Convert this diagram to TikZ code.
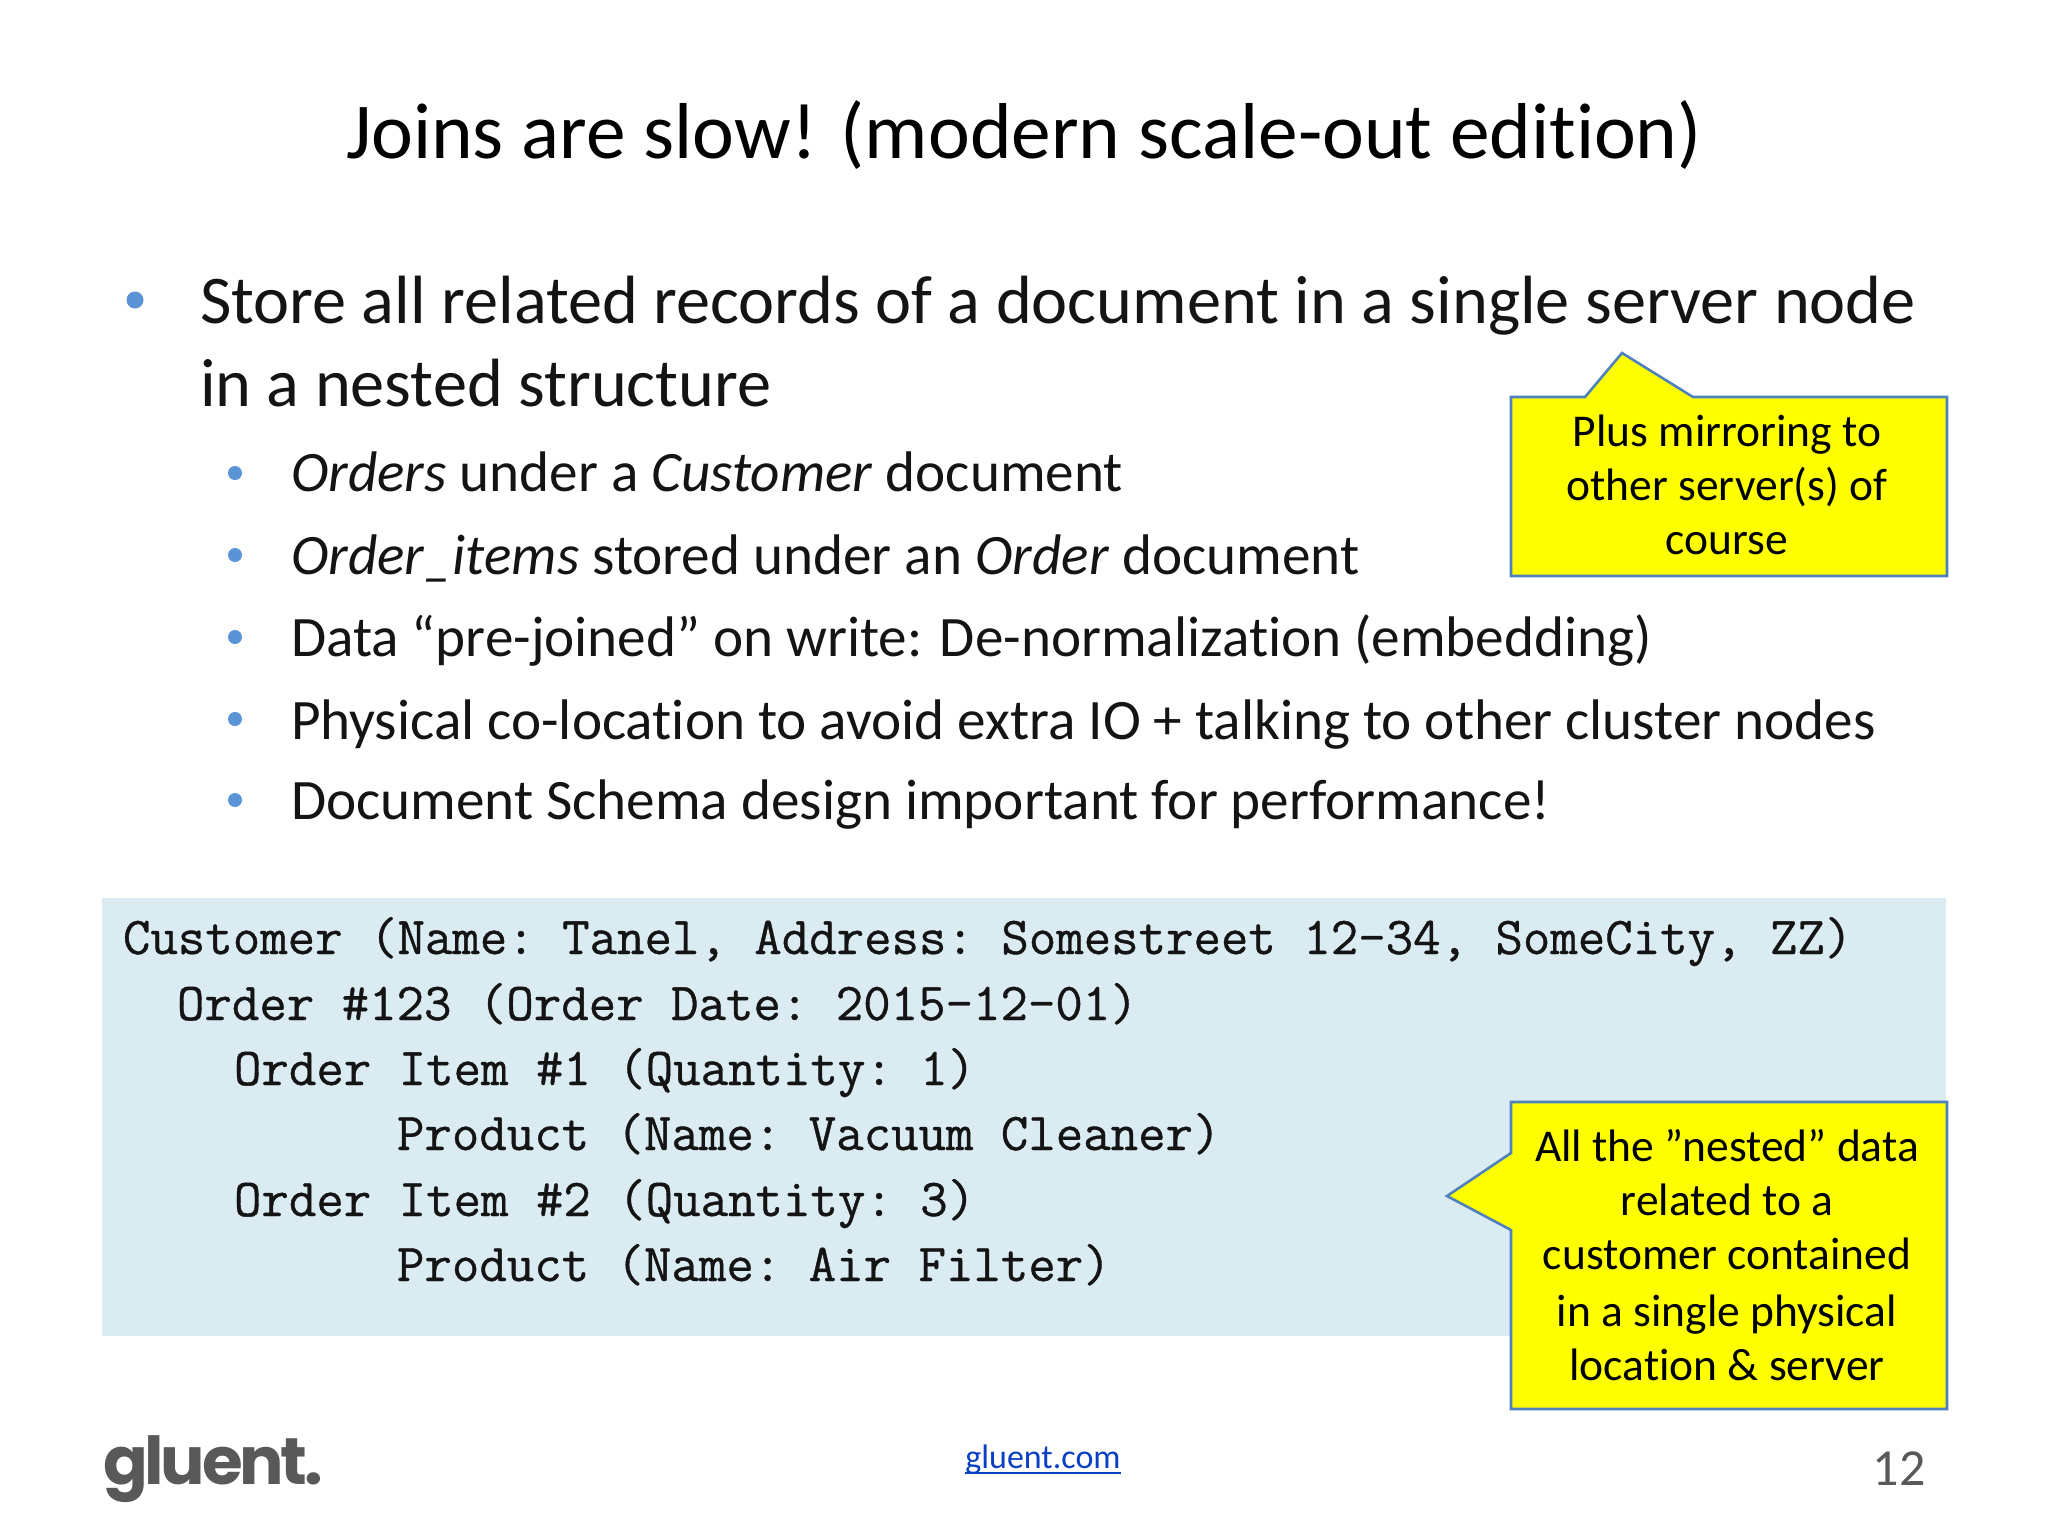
\documentclass[tikz,border=0pt]{standalone}
\usepackage{fontspec}
\setmainfont[Ligatures=NoCommon]{Carlito}
\newfontfamily\logofont[LetterSpace=-5]{Poppins}
\setmonofont[AutoFakeBold=0.7]{Latin Modern Mono}
\definecolor{dotblue}{HTML}{5B93D7}
\definecolor{codebg}{HTML}{DAEBF2}
\definecolor{edgeblue}{HTML}{4F81BD}
\definecolor{calloutfill}{HTML}{FFFF00}
\definecolor{inkgray}{HTML}{595959}
\definecolor{linkblue}{HTML}{0B3FC4}
\tikzset{
  x=1pt,y=-1pt,
  txt/.style={inner sep=0pt,outer sep=0pt,anchor=base west,text=black!92},
  ctxt/.style={inner sep=0pt,outer sep=0pt,anchor=base,text=black},
  titletxt/.style={ctxt,font=\fontsize{79.3}{86}\selectfont},
  lone/.style={txt,font=\fontsize{68.3}{76}\selectfont},
  ltwo/.style={txt,font=\fontsize{57.2}{64}\selectfont},
  codetxt/.style={txt,font=\fontsize{53.3}{60}\ttfamily\bfseries\selectfont},
  calltxt/.style={ctxt,font=\fontsize{45.5}{50}\selectfont},
  dotA/.style={circle,fill=dotblue,inner sep=0pt,minimum size=17pt},
  dotB/.style={circle,fill=dotblue,inner sep=0pt,minimum size=14pt},
  callout/.style={draw=edgeblue,fill=calloutfill,line width=2.6pt,line join=miter},
}
\begin{document}
\begin{tikzpicture}
\useasboundingbox[fill=white] (0,0) rectangle (2048,1536);
\node[titletxt] (title) at (1024,159) {Joins are slow! (modern scale-out edition)};
\node[dotA] (d1) at (135,300) {};
\node[lone] (l1) at (200,323) {Store all related records of a document in a single server node};
\node[lone] (l2) at (200,406) {in a nested structure};
\node[dotB] (d2) at (235,473) {};
\node[ltwo] (s1) at (291,491) {\textit{Orders} under a \textit{Customer} document};
\node[dotB] (d3) at (235,555) {};
\node[ltwo] (s2) at (291,574) {\textit{Order\_items} stored under an \textit{Order} document};
\node[dotB] (d4) at (235,637) {};
\node[ltwo] (s3) at (291,656) {Data “pre-joined” on write: De-normalization (embedding)};
\node[dotB] (d5) at (235,719) {};
\node[ltwo] (s4) at (291,739) {Physical co-location to avoid extra IO + talking to other cluster nodes};
\node[dotB] (d6) at (235,800) {};
\node[ltwo] (s5) at (291,819) {Document Schema design important for performance!};
\fill[codebg] (102,898) rectangle (1946,1336);
\node[codetxt] (c1) at (123,954) {Customer (Name: Tanel, Address: Somestreet 12-34, SomeCity, ZZ)};
\node[codetxt] (c2) at (177,1020) {Order \#123 (Order Date: 2015-12-01)};
\node[codetxt] (c3) at (234,1085) {Order Item \#1 (Quantity: 1)};
\node[codetxt] (c4) at (397,1150) {Product (Name: Vacuum Cleaner)};
\node[codetxt] (c5) at (234,1216) {Order Item \#2 (Quantity: 3)};
\node[codetxt] (c6) at (397,1281) {Product (Name: Air Filter)};
\draw[callout] (1511,397) -- (1585,397) -- (1622,353) -- (1693,397) -- (1947,397) -- (1947,576) -- (1511,576) -- cycle;
\node[calltxt] (m1) at (1727,446) {Plus mirroring to};
\node[calltxt] (m2) at (1727,500) {other server(s) of};
\node[calltxt] (m3) at (1727,554) {course};
\draw[callout] (1511,1102) -- (1947,1102) -- (1947,1409) -- (1511,1409) -- (1511,1230) -- (1447,1196) -- (1511,1153) -- cycle;
\node[calltxt] (n1) at (1727,1161) {All the ”nested” data};
\node[calltxt] (n2) at (1727,1215) {related to a};
\node[calltxt] (n3) at (1727,1269) {customer contained};
\node[calltxt] (n4) at (1727,1326) {in a single physical};
\node[calltxt] (n5) at (1727,1380) {location \& server};
\node[inner sep=0pt,anchor=base west,text=inkgray,font=\logofont\bfseries\fontsize{66}{70}\selectfont] (logo) at (103,1484) {gluent.};
\node[ctxt,text=linkblue,font=\fontsize{34}{38}\selectfont] (link) at (1043,1468) {gluent.com};
\draw[linkblue,line width=1.8pt] ([yshift=-5pt]link.base west) -- ([yshift=-5pt]link.base east);
\node[ctxt,text=inkgray,font=\fontsize{52}{54}\selectfont] (page) at (1899,1485) {12};
\end{tikzpicture}
\end{document}
